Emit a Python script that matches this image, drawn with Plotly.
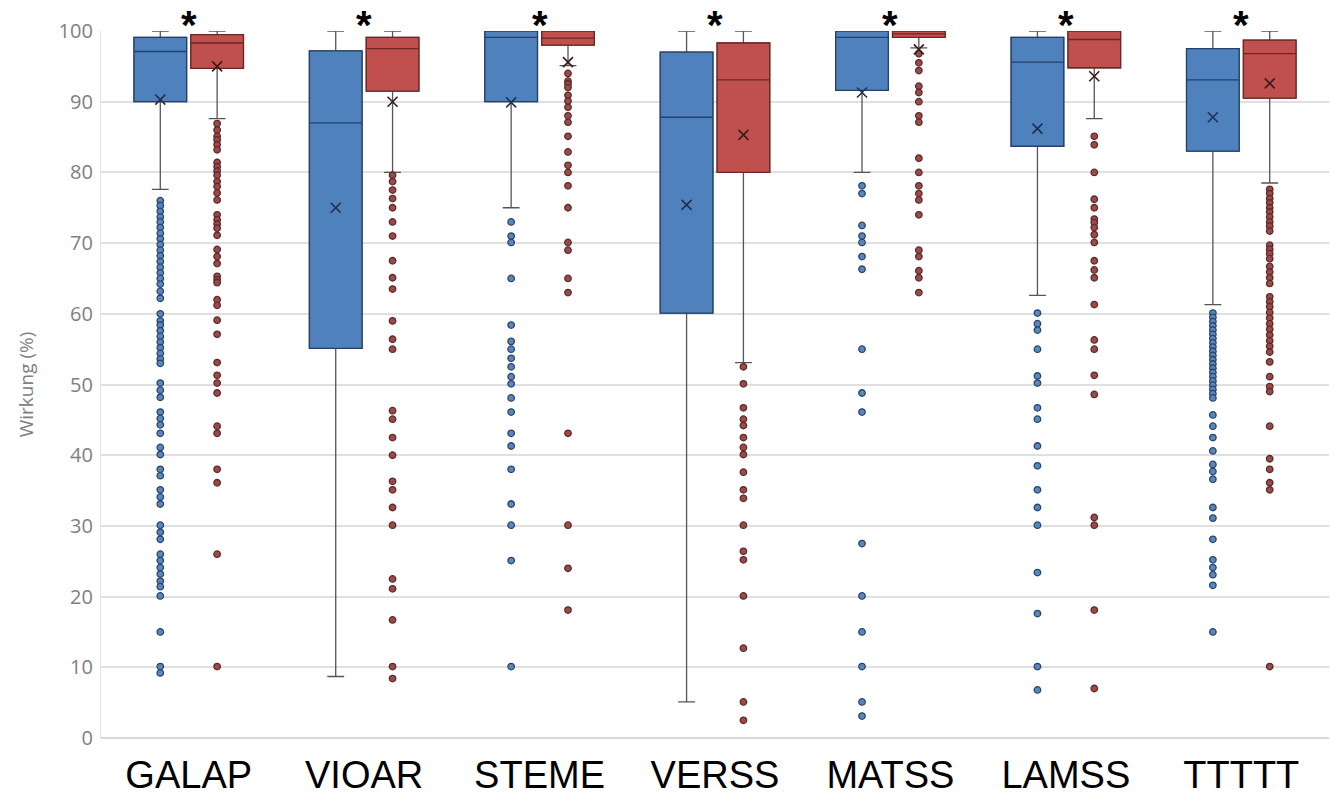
import plotly.graph_objects as go

categories = ["GALAP", "VIOAR", "STEME", "VERSS", "MATSS", "LAMSS", "TTTTT"]

# Blue series (Gruppe 1)
blue_upper = [100, 100, 100, 100, 100, 100, 100]
blue_q3 = [99.1, 97.2, 100, 97.0, 100, 99.1, 97.5]
blue_median = [97.1, 87.0, 99.1, 87.8, 99.1, 95.6, 93.1]
blue_q1 = [90.0, 55.1, 90.0, 60.1, 91.6, 83.7, 83.0]
blue_lower = [77.6, 8.7, 75.0, 5.1, 80.0, 62.6, 61.3]
blue_mean = [90.3, 75.0, 89.9, 75.4, 91.3, 86.2, 87.8]
blue_outliers = [
    [76, 75.3, 74.5, 73.7, 73, 72.2, 71.4, 70.6, 69.8, 69, 68.2, 67.4, 66.6, 65.8, 65, 64.2, 63.2, 62.2,
     60, 59, 58.4, 57.6, 56.8, 56, 55.2, 54.4, 53.6, 53, 50.2, 49.2, 48.2, 46.1, 45.2, 44.3, 43.1,
     41.1, 40.1, 38, 37.1, 35.1, 34.1, 33.1, 30.1, 29.1, 28.1, 26, 25.1, 24.1, 23.2, 22.2, 21.4, 20.1,
     15, 10.1, 9.2],
    [],
    [73, 71, 70.1, 65, 58.4, 56.1, 55, 53.7, 52.5, 51.1, 50.1, 48.1, 46.1, 43.1, 41.3, 38, 33.1, 30.1,
     25.1, 10.1],
    [],
    [78.1, 77, 72.5, 71, 70.1, 68.1, 66.3, 55, 48.8, 46.1, 27.5, 20.1, 15, 10.1, 5.1, 3.1],
    [60.1, 58.6, 57.7, 55, 51.2, 50.2, 46.7, 45.1, 41.3, 38.5, 35.1, 32.6, 30.1, 23.4, 17.6, 10.1, 6.8],
    [60.1, 59.5, 58.9, 58.3, 57.7, 57.1, 56.5, 55.9, 55.3, 54.7, 54.1, 53.5, 52.9, 52.3, 51.7, 51.1,
     50.5, 49.9, 49.3, 48.7, 48.1, 45.7, 44.1, 42.5, 40.6, 38.7, 37.7, 36.6, 32.6, 31.1, 28.1, 25.2,
     24.1, 23.1, 21.6, 15],
]

# Red series (Gruppe 2)
red_upper = [100, 100, 100, 100, 100, 100, 100]
red_q3 = [99.5, 99.1, 100, 98.3, 100, 100, 98.7]
red_median = [98.3, 97.5, 99.0, 93.1, 99.6, 98.8, 96.8]
red_q1 = [94.7, 91.5, 98.0, 80.0, 99.1, 94.8, 90.5]
red_lower = [87.6, 80.0, 95.1, 53.1, 97.6, 87.6, 78.5]
red_mean = [95.0, 90.0, 95.6, 85.3, 97.4, 93.6, 92.6]
red_outliers = [
    [86.9, 86.0, 85.1, 84.6, 83.9, 83.2, 81.4, 80.8, 80.2, 79.6, 78.7, 78.0, 77.1, 76.1, 74.0, 73.3,
     72.7, 72.1, 71.1, 69.1, 68.1, 67.1, 65.3, 64.8, 64.4, 62.0, 61.2, 59.1, 57.1, 53.1, 51.3, 50.2,
     48.8, 44.1, 43.1, 38.0, 36.1, 26.0, 10.1],
    [79.6, 78.7, 77.5, 76.3, 75.0, 73.0, 71.0, 67.5, 65.1, 63.5, 59.0, 56.4, 55.0, 46.3, 45.1, 42.5,
     40.0, 36.3, 35.1, 32.6, 30.1, 22.5, 21.1, 16.7, 10.1, 8.4],
    [94.0, 92.9, 92.5, 92.0, 90.9, 90.1, 89.2, 88.0, 87.1, 85.1, 82.9, 81.0, 80.0, 78.1, 75.0, 70.1,
     69.0, 65.0, 63.0, 43.1, 30.1, 24.0, 18.1],
    [52.5, 50.1, 46.7, 45.1, 44.2, 42.5, 41.1, 40.1, 37.6, 35.1, 33.9, 30.1, 26.4, 25.2, 20.1, 12.7,
     5.1, 2.5],
    [96.8, 95.5, 94.4, 92.2, 91.3, 90.0, 88.0, 87.1, 82.0, 80.0, 78.1, 77.0, 76.1, 74.0, 69.0, 68.1,
     66.1, 65.1, 63.0],
    [85.1, 83.9, 80.0, 76.2, 75.0, 73.4, 72.9, 72.2, 71.2, 70.1, 67.5, 66.2, 65.1, 61.3, 56.3, 55.0,
     51.3, 48.6, 31.2, 30.1, 18.1, 7.0],
    [77.6, 77.0, 76.3, 75.7, 75.0, 74.4, 73.7, 73.0, 72.4, 71.7, 69.7, 69.1, 68.5, 67.8, 66.7, 65.9,
     65.1, 64.3, 62.4, 61.7, 61.0, 60.2, 59.4, 58.6, 57.8, 57.0, 56.2, 55.4, 54.6, 53.2, 51.1, 49.7,
     49.0, 44.1, 39.5, 38.0, 36.1, 35.1, 10.1],
]

significance = ["*"] * len(categories)
y_ticks = [0, 10, 20, 30, 40, 50, 60, 70, 80, 90, 100]

OFFSET = 0.162
BOX_W = 0.30
WHISKER_COLOR = "#555555"

idx = list(range(len(categories)))
blue_x = [i - OFFSET for i in idx]
red_x = [i + OFFSET for i in idx]

fig = go.Figure()


def add_series(xs, q1, med, q3, lo, hi, mean, outs, fill, line, out_fill, out_line, mean_col):
    # whiskers (gray), drawn underneath
    fig.add_trace(go.Box(
        x=xs, q1=q1, median=med, q3=q3, lowerfence=lo, upperfence=hi,
        width=BOX_W, whiskerwidth=0.32, fillcolor=fill,
        line=dict(color=WHISKER_COLOR, width=1.3), boxpoints=False, showlegend=False,
        hoverinfo="skip",
    ))
    # coloured box on top (fences equal to quartiles so no extra whiskers)
    fig.add_trace(go.Box(
        x=xs, q1=q1, median=med, q3=q3, lowerfence=q1, upperfence=q3,
        width=BOX_W, whiskerwidth=0.0, fillcolor=fill,
        line=dict(color=line, width=1.3), boxpoints=False, showlegend=False,
        hoverinfo="skip",
    ))
    ox, oy = [], []
    for x, vals in zip(xs, outs):
        ox += [x] * len(vals)
        oy += vals
    fig.add_trace(go.Scatter(
        x=ox, y=oy, mode="markers", showlegend=False, hoverinfo="skip",
        marker=dict(size=6.5, color=out_fill, line=dict(color=out_line, width=1.3)),
    ))
    fig.add_trace(go.Scatter(
        x=xs, y=mean, mode="markers", showlegend=False, hoverinfo="skip",
        marker=dict(symbol="x-thin", size=10, line=dict(color=mean_col, width=1.6)),
    ))


add_series(blue_x, blue_q1, blue_median, blue_q3, blue_lower, blue_upper, blue_mean,
           blue_outliers, "#4F81BD", "#24416B", "#5A86C0", "#2A4466", "#1f2f4f")
add_series(red_x, red_q1, red_median, red_q3, red_lower, red_upper, red_mean,
           red_outliers, "#C0504D", "#6E2624", "#9A4A48", "#5E2A2A", "#3a1a1a")

for i, s in enumerate(significance):
    fig.add_annotation(x=i, y=1.042, xref="x", yref="paper", text="<b>" + s + "</b>",
                       showarrow=False, yanchor="top",
                       font=dict(family="Liberation Sans, Arial", size=40, color="#000000"))

fig.update_layout(
    width=1330, height=797,
    margin=dict(l=101, r=1, t=31, b=59),
    paper_bgcolor="white", plot_bgcolor="white",
    boxmode="overlay",
    font=dict(family="Open Sans, Liberation Sans, Arial", color="#7f7f7f"),
)
fig.update_xaxes(
    range=[-0.5, len(categories) - 0.5],
    tickmode="array", tickvals=idx, ticktext=categories,
    tickfont=dict(family="Liberation Sans, Arial", size=38, color="#000000"),
    showgrid=False, zeroline=False, showline=False, ticks="",
    ticklabelstandoff=11, automargin=False,
)
fig.update_yaxes(
    range=[0, 100], tickmode="array", tickvals=y_ticks,
    tickfont=dict(family="Open Sans, Liberation Sans", size=20, color="#808080"),
    showgrid=True, gridcolor="#e0e0e0", gridwidth=1.5,
    zeroline=True, zerolinecolor="#d9d9d9", zerolinewidth=1.5,
    showline=True, linecolor="#e3e3e3", linewidth=1.2,
    ticks="", ticklabelstandoff=3, automargin=False,
    title=dict(text="Wirkung (%)", font=dict(family="Open Sans, Liberation Sans", size=19, color="#808080"), standoff=19),
)

fig.write_html("out.html", config={"displayModeBar": False},
               post_script="document.body.style.margin='0';")
